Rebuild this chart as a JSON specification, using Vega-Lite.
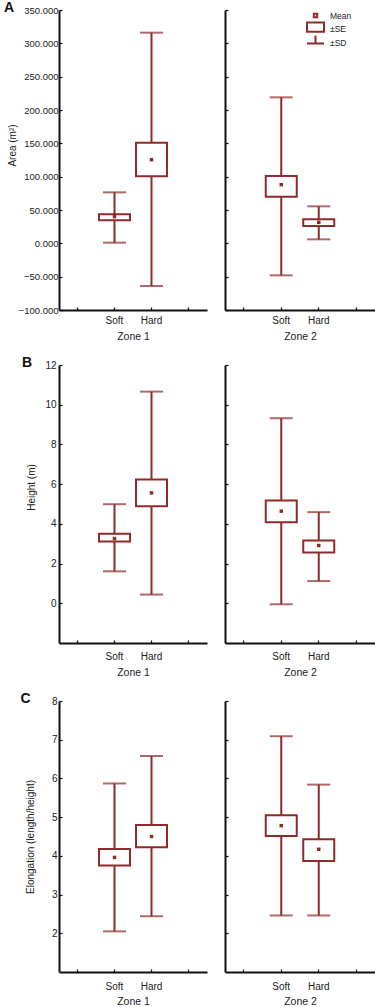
{
  "$schema": "https://vega.github.io/schema/vega-lite/v6.json",
  "padding": {"left": 4, "top": 1, "right": 0, "bottom": 0},
  "background": "white",
  "config": {
    "font": "Liberation Sans",
    "view": {"stroke": null},
    "axis": {"domainColor": "#111", "domainWidth": 2, "tickColor": "#111", "tickWidth": 1.2, "tickSize": -3, "labelFont": "Liberation Sans", "labelFontSize": 10, "labelColor": "#222", "titleFont": "Liberation Sans", "titleFontSize": 10, "titleFontWeight": "normal", "titleColor": "#222", "grid": false, "labelPadding": 4, "labelOverlap": false},
    "axisX": {"titleFontSize": 10.5},
    "title": {"font": "Liberation Sans", "fontSize": 14, "fontWeight": "bold", "anchor": "start", "color": "#111"},
    "legend": {"labelFont": "Liberation Sans", "labelFontSize": 8.5, "labelColor": "#222"}
  },
  "datasets": {
    "area": [
      {"zone": "Zone 1", "habitat": "Soft", "sd_lo": 1, "sd_hi": 76.5, "se_lo": 34.5, "se_hi": 43.5, "mean": 40},
      {"zone": "Zone 1", "habitat": "Hard", "sd_lo": -64, "sd_hi": 316, "se_lo": 100.5, "se_hi": 151, "mean": 125.5},
      {"zone": "Zone 2", "habitat": "Soft", "sd_lo": -48, "sd_hi": 219, "se_lo": 70, "se_hi": 101, "mean": 88},
      {"zone": "Zone 2", "habitat": "Hard", "sd_lo": 6, "sd_hi": 55.5, "se_lo": 26, "se_hi": 36, "mean": 31.5}
    ],
    "height": [
      {"zone": "Zone 1", "habitat": "Soft", "sd_lo": 1.61, "sd_hi": 4.99, "se_lo": 3.11, "se_hi": 3.5, "mean": 3.26},
      {"zone": "Zone 1", "habitat": "Hard", "sd_lo": 0.44, "sd_hi": 10.66, "se_lo": 4.89, "se_hi": 6.23, "mean": 5.56},
      {"zone": "Zone 2", "habitat": "Soft", "sd_lo": -0.05, "sd_hi": 9.32, "se_lo": 4.08, "se_hi": 5.17, "mean": 4.64},
      {"zone": "Zone 2", "habitat": "Hard", "sd_lo": 1.12, "sd_hi": 4.59, "se_lo": 2.56, "se_hi": 3.16, "mean": 2.91}
    ],
    "elong": [
      {"zone": "Zone 1", "habitat": "Soft", "sd_lo": 2.05, "sd_hi": 5.87, "se_lo": 3.75, "se_hi": 4.18, "mean": 3.96},
      {"zone": "Zone 1", "habitat": "Hard", "sd_lo": 2.44, "sd_hi": 6.58, "se_lo": 4.22, "se_hi": 4.8, "mean": 4.5},
      {"zone": "Zone 2", "habitat": "Soft", "sd_lo": 2.46, "sd_hi": 7.09, "se_lo": 4.51, "se_hi": 5.05, "mean": 4.78},
      {"zone": "Zone 2", "habitat": "Hard", "sd_lo": 2.46, "sd_hi": 5.84, "se_lo": 3.87, "se_hi": 4.43, "mean": 4.17}
    ],
    "legenditems": [{"item": "Mean"}, {"item": "±SE"}, {"item": "±SD"}]
  },
  "spacing": 14,
  "vconcat": [
    {
      "title": {"text": "A", "offset": -10, "dx": -3},
      "spacing": 17,
      "hconcat": [
        {
          "width": 148, "height": 300,
          "data": {"name": "area"},
          "transform": [{"filter": "datum.zone == 'Zone 1'"}],
          "encoding": {"x": {"field": "habitat", "type": "nominal", "scale": {"domain": ["L", "Soft", "Hard", "R"], "paddingInner": 0, "paddingOuter": 0}, "axis": {"title": "Zone 1", "labelAngle": 0, "labelPadding": 8, "titlePadding": 6, "labelExpr": "datum.value == 'Soft' || datum.value == 'Hard' ? datum.value : ''"}}},
          "layer": [
            {"mark": {"type": "rule", "color": "#8e2b2b", "strokeWidth": 2}, "encoding": {"y": {"field": "sd_lo", "type": "quantitative", "scale": {"domain": [-100, 350], "nice": false, "zero": false}, "axis": {"title": "Area (m²)", "titlePadding": 1, "titleY": 135, "labelFontSize": 9.5, "labelOverlap": false, "tickCount": 20, "values": [-100, -50, 0, 50, 100, 150, 200, 250, 300, 350], "format": ".3f"}}, "y2": {"field": "sd_hi"}}},
            {"mark": {"type": "tick", "color": "#8e2b2b", "thickness": 2, "size": 23}, "encoding": {"y": {"field": "sd_lo", "type": "quantitative"}}},
            {"mark": {"type": "tick", "color": "#8e2b2b", "thickness": 2, "size": 23}, "encoding": {"y": {"field": "sd_hi", "type": "quantitative"}}},
            {"mark": {"type": "bar", "fill": "white", "stroke": "#8e2b2b", "strokeWidth": 2, "width": 31}, "encoding": {"y": {"field": "se_lo", "type": "quantitative"}, "y2": {"field": "se_hi"}}},
            {"mark": {"type": "point", "shape": "square", "filled": true, "color": "#8e2b2b", "size": 12, "opacity": 1}, "encoding": {"y": {"field": "mean", "type": "quantitative"}}}
          ]
        },
        {
          "width": 150, "height": 300,
          "layer": [
            {
              "data": {"name": "area"},
              "transform": [{"filter": "datum.zone == 'Zone 2'"}],
              "encoding": {"x": {"field": "habitat", "type": "nominal", "scale": {"domain": ["L", "Soft", "Hard", "R"], "paddingInner": 0, "paddingOuter": 0}, "axis": {"title": "Zone 2", "labelAngle": 0, "labelPadding": 8, "titlePadding": 6, "labelExpr": "datum.value == 'Soft' || datum.value == 'Hard' ? datum.value : ''"}}},
              "layer": [
                {"mark": {"type": "rule", "color": "#8e2b2b", "strokeWidth": 2}, "encoding": {"y": {"field": "sd_lo", "type": "quantitative", "scale": {"domain": [-100, 350], "nice": false, "zero": false}, "axis": {"title": null, "labels": false, "tickCount": 20, "values": [-100, -50, 0, 50, 100, 150, 200, 250, 300, 350]}}, "y2": {"field": "sd_hi"}}},
                {"mark": {"type": "tick", "color": "#8e2b2b", "thickness": 2, "size": 23}, "encoding": {"y": {"field": "sd_lo", "type": "quantitative"}}},
                {"mark": {"type": "tick", "color": "#8e2b2b", "thickness": 2, "size": 23}, "encoding": {"y": {"field": "sd_hi", "type": "quantitative"}}},
                {"mark": {"type": "bar", "fill": "white", "stroke": "#8e2b2b", "strokeWidth": 2, "width": 31}, "encoding": {"y": {"field": "se_lo", "type": "quantitative"}, "y2": {"field": "se_hi"}}},
                {"mark": {"type": "point", "shape": "square", "filled": true, "color": "#8e2b2b", "size": 12, "opacity": 1}, "encoding": {"y": {"field": "mean", "type": "quantitative"}}}
              ]
            },
            {
              "data": {"name": "legenditems"},
              "mark": {"type": "point", "filled": false, "color": "#8e2b2b", "strokeOpacity": 0, "fillOpacity": 0},
              "encoding": {"shape": {"field": "item", "type": "nominal", "scale": {"domain": ["Mean", "±SE", "±SD"], "range": ["M-0.31,-0.31H0.31V0.31H-0.31Z", "M-1.55,-1.08H1.55V0.6H-1.55Z", "M0,-1.27V0.19M-1.55,0.19H1.55"]}, "legend": {"orient": "none", "legendX": 250, "legendY": -1, "title": null, "symbolSize": 121, "symbolStrokeWidth": 2, "symbolStrokeColor": "#8e2b2b", "symbolOpacity": 1, "rowPadding": -9, "labelOffset": 8, "symbolFillColor": "white"}}}
            }
          ]
        }
      ]
    },
    {
      "title": {"text": "B", "offset": -10, "dx": -5},
      "spacing": 17,
      "hconcat": [
        {
          "width": 148, "height": 278,
          "data": {"name": "height"},
          "transform": [{"filter": "datum.zone == 'Zone 1'"}],
          "encoding": {"x": {"field": "habitat", "type": "nominal", "scale": {"domain": ["L", "Soft", "Hard", "R"], "paddingInner": 0, "paddingOuter": 0}, "axis": {"title": "Zone 1", "labelAngle": 0, "labelPadding": 11, "titlePadding": 6, "labelExpr": "datum.value == 'Soft' || datum.value == 'Hard' ? datum.value : ''"}}},
          "layer": [
            {"mark": {"type": "rule", "color": "#8e2b2b", "strokeWidth": 2}, "encoding": {"y": {"field": "sd_lo", "type": "quantitative", "scale": {"domain": [-2, 12], "nice": false, "zero": false}, "axis": {"title": "Height (m)", "labelPadding": 6, "titlePadding": 8, "titleY": 122, "tickCount": 20, "values": [0, 2, 4, 6, 8, 10, 12], "format": "d"}}, "y2": {"field": "sd_hi"}}},
            {"mark": {"type": "tick", "color": "#8e2b2b", "thickness": 2, "size": 23}, "encoding": {"y": {"field": "sd_lo", "type": "quantitative"}}},
            {"mark": {"type": "tick", "color": "#8e2b2b", "thickness": 2, "size": 23}, "encoding": {"y": {"field": "sd_hi", "type": "quantitative"}}},
            {"mark": {"type": "bar", "fill": "white", "stroke": "#8e2b2b", "strokeWidth": 2, "width": 31}, "encoding": {"y": {"field": "se_lo", "type": "quantitative"}, "y2": {"field": "se_hi"}}},
            {"mark": {"type": "point", "shape": "square", "filled": true, "color": "#8e2b2b", "size": 12, "opacity": 1}, "encoding": {"y": {"field": "mean", "type": "quantitative"}}}
          ]
        },
        {
          "width": 150, "height": 278,
          "data": {"name": "height"},
          "transform": [{"filter": "datum.zone == 'Zone 2'"}],
          "encoding": {"x": {"field": "habitat", "type": "nominal", "scale": {"domain": ["L", "Soft", "Hard", "R"], "paddingInner": 0, "paddingOuter": 0}, "axis": {"title": "Zone 2", "labelAngle": 0, "labelPadding": 11, "titlePadding": 6, "labelExpr": "datum.value == 'Soft' || datum.value == 'Hard' ? datum.value : ''"}}},
          "layer": [
            {"mark": {"type": "rule", "color": "#8e2b2b", "strokeWidth": 2}, "encoding": {"y": {"field": "sd_lo", "type": "quantitative", "scale": {"domain": [-2, 12], "nice": false, "zero": false}, "axis": {"title": null, "labels": false, "tickCount": 20, "values": [0, 2, 4, 6, 8, 10, 12]}}, "y2": {"field": "sd_hi"}}},
            {"mark": {"type": "tick", "color": "#8e2b2b", "thickness": 2, "size": 23}, "encoding": {"y": {"field": "sd_lo", "type": "quantitative"}}},
            {"mark": {"type": "tick", "color": "#8e2b2b", "thickness": 2, "size": 23}, "encoding": {"y": {"field": "sd_hi", "type": "quantitative"}}},
            {"mark": {"type": "bar", "fill": "white", "stroke": "#8e2b2b", "strokeWidth": 2, "width": 31}, "encoding": {"y": {"field": "se_lo", "type": "quantitative"}, "y2": {"field": "se_hi"}}},
            {"mark": {"type": "point", "shape": "square", "filled": true, "color": "#8e2b2b", "size": 12, "opacity": 1}, "encoding": {"y": {"field": "mean", "type": "quantitative"}}}
          ]
        }
      ]
    },
    {
      "title": {"text": "C", "offset": -10, "dx": -5},
      "spacing": 17,
      "hconcat": [
        {
          "width": 148, "height": 271,
          "data": {"name": "elong"},
          "transform": [{"filter": "datum.zone == 'Zone 1'"}],
          "encoding": {"x": {"field": "habitat", "type": "nominal", "scale": {"domain": ["L", "Soft", "Hard", "R"], "paddingInner": 0, "paddingOuter": 0}, "axis": {"title": "Zone 1", "labelAngle": 0, "labelPadding": 12, "titlePadding": 5, "labelExpr": "datum.value == 'Soft' || datum.value == 'Hard' ? datum.value : ''"}}},
          "layer": [
            {"mark": {"type": "rule", "color": "#8e2b2b", "strokeWidth": 2}, "encoding": {"y": {"field": "sd_lo", "type": "quantitative", "scale": {"domain": [1, 8], "nice": false, "zero": false}, "axis": {"title": "Elongation (length/height)", "labelPadding": 5, "titlePadding": 16, "tickCount": 20, "values": [2, 3, 4, 5, 6, 7, 8], "format": "d"}}, "y2": {"field": "sd_hi"}}},
            {"mark": {"type": "tick", "color": "#8e2b2b", "thickness": 2, "size": 23}, "encoding": {"y": {"field": "sd_lo", "type": "quantitative"}}},
            {"mark": {"type": "tick", "color": "#8e2b2b", "thickness": 2, "size": 23}, "encoding": {"y": {"field": "sd_hi", "type": "quantitative"}}},
            {"mark": {"type": "bar", "fill": "white", "stroke": "#8e2b2b", "strokeWidth": 2, "width": 31}, "encoding": {"y": {"field": "se_lo", "type": "quantitative"}, "y2": {"field": "se_hi"}}},
            {"mark": {"type": "point", "shape": "square", "filled": true, "color": "#8e2b2b", "size": 12, "opacity": 1}, "encoding": {"y": {"field": "mean", "type": "quantitative"}}}
          ]
        },
        {
          "width": 150, "height": 271,
          "data": {"name": "elong"},
          "transform": [{"filter": "datum.zone == 'Zone 2'"}],
          "encoding": {"x": {"field": "habitat", "type": "nominal", "scale": {"domain": ["L", "Soft", "Hard", "R"], "paddingInner": 0, "paddingOuter": 0}, "axis": {"title": "Zone 2", "labelAngle": 0, "labelPadding": 12, "titlePadding": 5, "labelExpr": "datum.value == 'Soft' || datum.value == 'Hard' ? datum.value : ''"}}},
          "layer": [
            {"mark": {"type": "rule", "color": "#8e2b2b", "strokeWidth": 2}, "encoding": {"y": {"field": "sd_lo", "type": "quantitative", "scale": {"domain": [1, 8], "nice": false, "zero": false}, "axis": {"title": null, "labels": false, "tickCount": 20, "values": [2, 3, 4, 5, 6, 7, 8]}}, "y2": {"field": "sd_hi"}}},
            {"mark": {"type": "tick", "color": "#8e2b2b", "thickness": 2, "size": 23}, "encoding": {"y": {"field": "sd_lo", "type": "quantitative"}}},
            {"mark": {"type": "tick", "color": "#8e2b2b", "thickness": 2, "size": 23}, "encoding": {"y": {"field": "sd_hi", "type": "quantitative"}}},
            {"mark": {"type": "bar", "fill": "white", "stroke": "#8e2b2b", "strokeWidth": 2, "width": 31}, "encoding": {"y": {"field": "se_lo", "type": "quantitative"}, "y2": {"field": "se_hi"}}},
            {"mark": {"type": "point", "shape": "square", "filled": true, "color": "#8e2b2b", "size": 12, "opacity": 1}, "encoding": {"y": {"field": "mean", "type": "quantitative"}}}
          ]
        }
      ]
    }
  ]
}
